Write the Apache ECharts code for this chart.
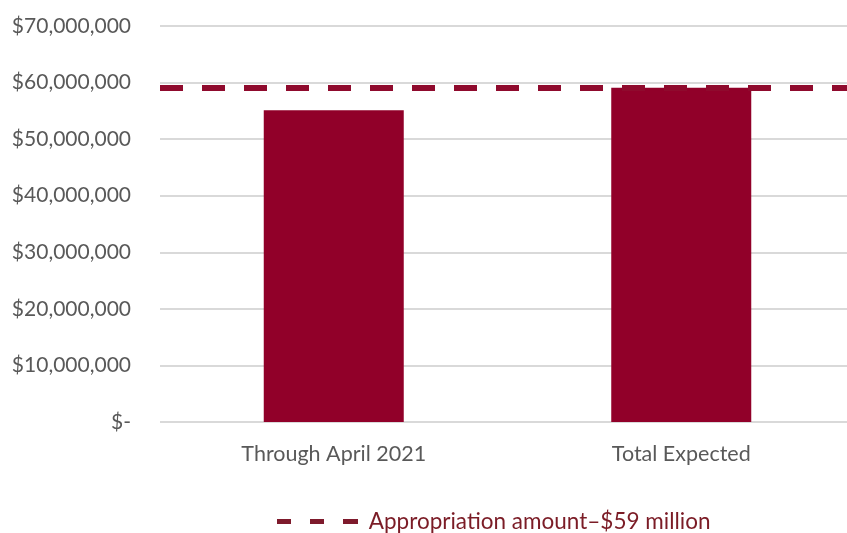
<!DOCTYPE html>
<html>
<head>
<meta charset="utf-8">
<script src="https://cdn.jsdelivr.net/npm/echarts@6/dist/echarts.min.js"></script>
<style>
  html, body { margin: 0; padding: 0; background: #fff; overflow: hidden; }
  /* plot area runs a little past the right edge of the window */
  #chart { width: 855px; height: 533px; }
</style>
</head>
<body>
<div id="chart"></div>
<script>
// Spending categories and amounts (US dollars)
const categories = ['Through April 2021', 'Total Expected'];
const spending = [55100000, 59100000];
const appropriation = 59000000;
const appropriationLabel = 'Appropriation amount\u2013$59 million';

// Value axis ticks
const yMin = 0;
const yMax = 70000000;
const yStep = 10000000;

const FONT = 'Lato, "Open Sans", sans-serif';
const BAR_RED = '#910029';

function money(v) {
  if (v === 0) return '$-';
  return '$' + v.toLocaleString('en-US');
}

const chart = echarts.init(document.getElementById('chart'), null, { renderer: 'canvas' });

chart.setOption({
  animation: false,
  backgroundColor: '#ffffff',
  grid: { left: 160, right: 0, top: 26, bottom: 111, containLabel: false },
  legend: {
    data: [appropriationLabel],
    left: 277,
    top: 510,
    padding: 0,
    itemWidth: 81,
    itemHeight: 14,
    icon: 'path://M0,0H14V5H0Z M33,0H47V5H33Z M66,0H81V5H66Z',
    itemStyle: { color: '#7e1a2c' },
    formatter: function (name) { return ' ' + name; },
    textStyle: { color: '#7b1c26', fontSize: 22.5, fontFamily: FONT }
  },
  xAxis: {
    type: 'category',
    data: categories,
    axisLine: { show: false },
    axisTick: { show: false },
    axisLabel: { color: '#595959', fontSize: 21.5, fontFamily: FONT, margin: 21 }
  },
  yAxis: {
    type: 'value',
    min: yMin,
    max: yMax,
    interval: yStep,
    axisLine: { show: false },
    axisTick: { show: false },
    axisLabel: { color: '#595959', fontSize: 21, fontFamily: FONT, margin: 29, formatter: money },
    splitLine: { lineStyle: { color: '#d9d9d9', width: 2 } }
  },
  series: [
    {
      name: 'Spending',
      type: 'bar',
      data: spending,
      barWidth: 140,
      itemStyle: { color: BAR_RED }
    },
    {
      name: appropriationLabel,
      type: 'line',
      data: [],
      symbol: 'none',
      itemStyle: { color: '#7e1a2c' },
      lineStyle: { color: '#8f0a2d', width: 6, type: [23, 19] },
      markLine: {
        silent: true,
        symbol: ['none', 'none'],
        label: { show: false },
        lineStyle: { color: '#8f0a2d', width: 6, type: [23, 19] },
        data: [{ yAxis: appropriation }]
      }
    }
  ]
});
</script>
</body>
</html>
